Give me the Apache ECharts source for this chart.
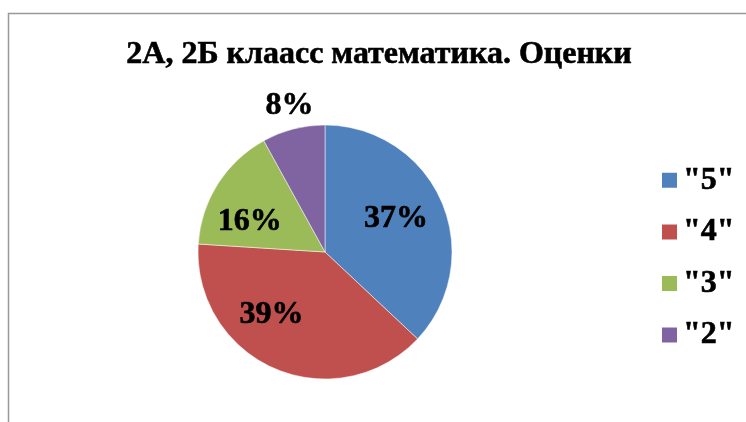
<!DOCTYPE html>
<html>
<head>
<meta charset="utf-8">
<script src="https://cdn.jsdelivr.net/npm/echarts@6/dist/echarts.min.js"></script>
<style>
  html, body { margin: 0; padding: 0; background: #fff; }
  #chart { width: 746px; height: 422px; }
</style>
</head>
<body>
<div id="chart"></div>
<script>
// оценки
const grades = ['"5"', '"4"', '"3"', '"2"'];
const shares = [37, 39, 16, 8];
const colors = ["#4F81BD", "#C0504D", "#9BBB59", "#8064A2"];
// сдвиг подписей как в Excel
const labelShift = [[10, -7], [-27, 2], [-19, 5], [-19, -82]];

const serif = "'Liberation Serif', 'Times New Roman', serif";
const chart = echarts.init(document.getElementById("chart"));

const boldText = {
  fontFamily: serif,
  fontWeight: "bold",
  fontSize: 32,
  color: "#000",
  textBorderColor: "#000",
  textBorderWidth: 0.6,
};

const optionData = {
  animation: false,
  color: colors,
  title: {
    text: "2А, 2Б клаасс математика. Оценки",
    left: 379,
    top: 39,
    padding: 0,
    textAlign: "center",
    textStyle: boldText,
  },
  legend: {
    orient: "vertical",
    left: 655,
    top: 159,
    itemWidth: 17,
    itemHeight: 17,
    itemGap: 19,
    icon: "rect",
    data: grades,
    textStyle: boldText,
  },
  graphic: [
    {
      type: "polyline",
      shape: { points: [[8.5, 422], [8.5, 13.5], [746, 13.5]] },
      style: { stroke: "#999", lineWidth: 1.5, fill: null },
    },
  ],
  series: [
    {
      type: "pie",
      radius: 127,
      center: [325, 252],
      startAngle: 90,
      clockwise: true,
      itemStyle: { borderColor: "#fff", borderWidth: 0.5 },
      label: Object.assign({ show: true, position: "inside", formatter: "{c}%" }, boldText),
      labelLine: { show: false },
      emphasis: { disabled: true },
      data: grades.map(function(g, i) {
        return { name: g, value: shares[i], label: { offset: labelShift[i] } };
      }),
    },
  ],
};
chart.setOption(optionData);
</script>
</body>
</html>
